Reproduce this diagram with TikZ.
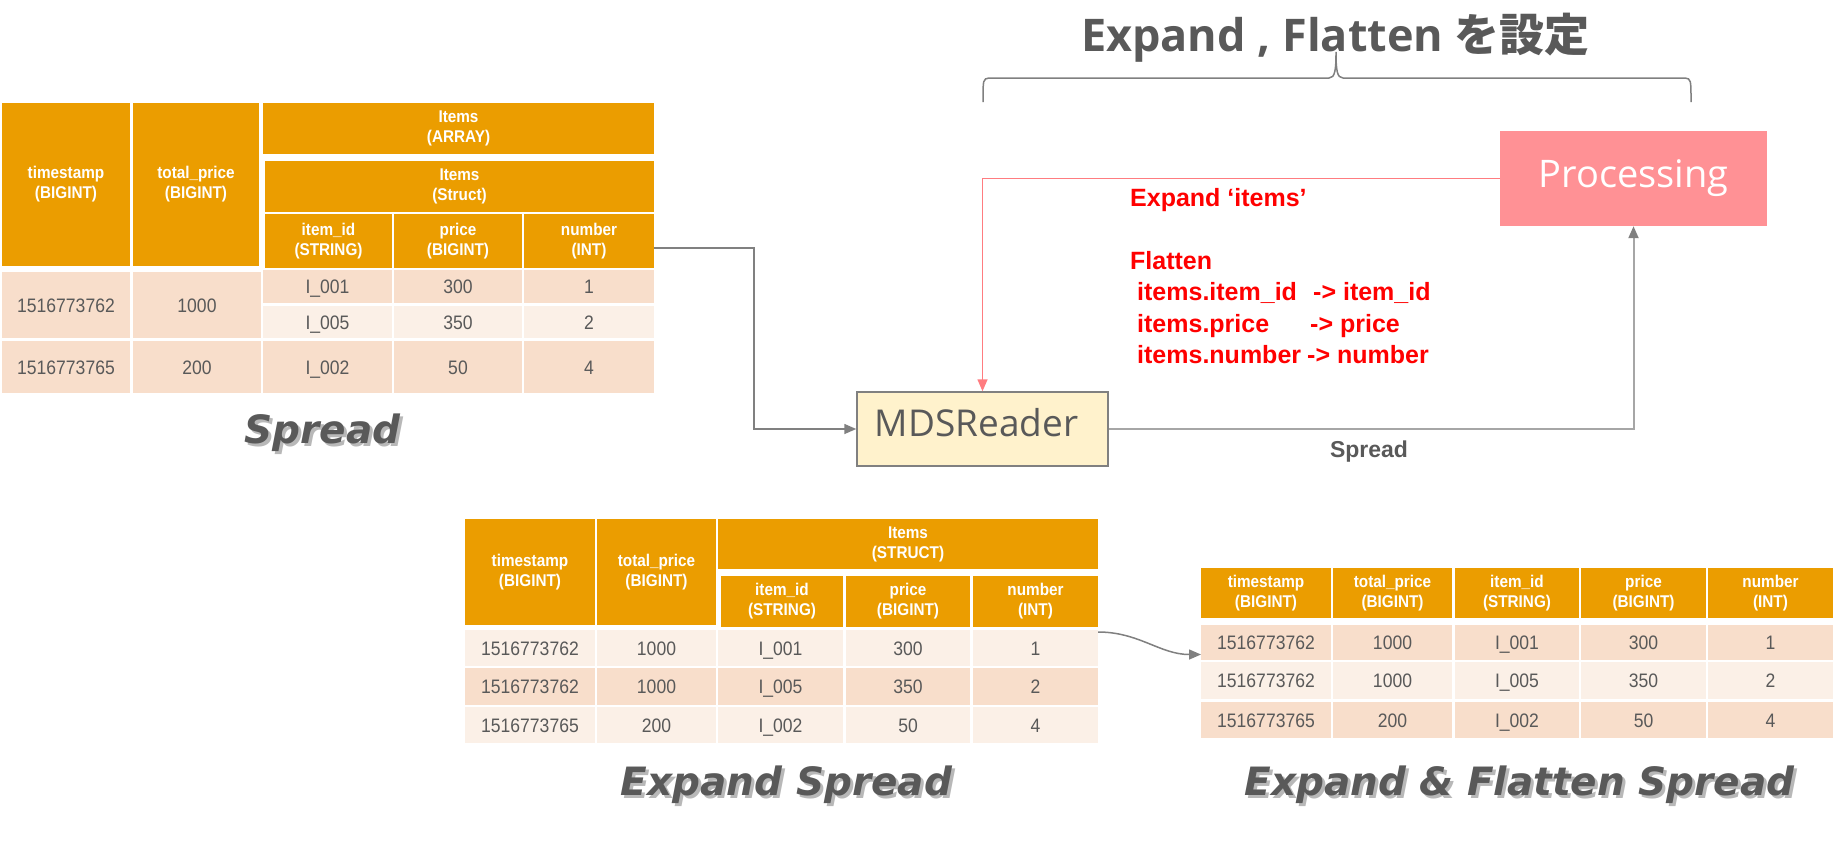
\documentclass[tikz,border=0pt]{standalone}
\usepackage{fontspec}
\setmainfont{Liberation Sans}
\newfontfamily\tabfont{Liberation Sans}[FakeStretch=0.9]
\newfontfamily\osans{Open Sans}
\newfontfamily\djv{DejaVu Sans}
\newfontfamily\cjk{Noto Sans CJK JP}
\usetikzlibrary{arrows.meta}
\definecolor{hdr}{HTML}{EB9D00}
\definecolor{peach}{HTML}{F8DECB}
\definecolor{pale}{HTML}{FBF0E7}
\definecolor{txt}{HTML}{595959}
\definecolor{lgray}{HTML}{A6A6A6}
\definecolor{mgray}{HTML}{808080}
\definecolor{pinkbox}{HTML}{FF9195}
\definecolor{pinkline}{HTML}{FF7C80}
\definecolor{cream}{HTML}{FFF2CC}
\definecolor{shadowc}{HTML}{B8B8B8}
\definecolor{redtxt}{HTML}{FF0000}
\newcommand\tcell[7]{\node[#2, minimum width={(#5-#3)*1pt}, minimum height={(#6-#4)*1pt}] (#1) at ({(#3+#5)/2},{(#4+#6)/2}) {#7};}
\newcommand\shtext[1]{\makebox[0pt][l]{\hspace{3pt}\raisebox{-3pt}{\color{shadowc}#1}}#1}
\tikzset{
  hd/.style={fill=hdr, text=white, font=\tabfont\bfseries\fontsize{17}{20}\selectfont, align=center, inner sep=0pt, outer sep=0pt},
  ca/.style={fill=peach, text=txt, font=\tabfont\fontsize{19.5}{22}\selectfont, inner sep=0pt, outer sep=0pt, text height=14pt, text depth=0pt},
  cb/.style={ca, fill=pale},
  gline/.style={draw=mgray, line width=1.5pt},
  lline/.style={draw=lgray, line width=2pt},
  rline/.style={draw=pinkline, line width=1.5pt},
  tip/.style={-{Triangle[length=12pt,width=10pt,color=#1]}},
  redt/.style={text=redtxt, font=\bfseries\fontsize{25}{30}\selectfont, inner sep=0pt, anchor=base west},
  bigit/.style={text=txt, font=\djv\bfseries\itshape\fontsize{39}{44}\selectfont, inner sep=0pt, anchor=base},
  brace/.style={draw=mgray, line width=1.5pt}
}
\begin{document}
\begin{tikzpicture}[x=1pt,y=-1pt]
\useasboundingbox (0,0) rectangle (1836,841);
\fill[white] (0,0) rectangle (1836,841);

% ---------- top-left table ----------
\tcell{a1}{hd}{2}{103}{130}{266}{timestamp\\(BIGINT)}
\tcell{a2}{hd}{133}{103}{259}{266}{total\_price\\(BIGINT)}
\tcell{a3}{hd}{263}{103}{654}{154}{Items\\(ARRAY)}
\tcell{a4}{hd}{265}{161}{654}{212}{Items\\(Struct)}
\tcell{a5}{hd}{265}{214}{392}{268}{item\_id\\(STRING)}
\tcell{a6}{hd}{394}{214}{522}{268}{price\\(BIGINT)}
\tcell{a7}{hd}{524}{214}{654}{268}{number\\(INT)}
\tcell{a11}{ca}{2}{272}{130}{338}{1516773762}
\tcell{a12}{ca}{133}{272}{261}{338}{1000}
\tcell{a13}{ca}{263}{270}{392}{303}{I\_001}
\tcell{a14}{ca}{394}{270}{522}{303}{300}
\tcell{a15}{ca}{524}{270}{654}{303}{1}
\tcell{a23}{cb}{263}{306}{392}{338}{I\_005}
\tcell{a24}{cb}{394}{306}{522}{338}{350}
\tcell{a25}{cb}{524}{306}{654}{338}{2}
\tcell{a31}{ca}{2}{341}{130}{393}{1516773765}
\tcell{a32}{ca}{133}{341}{261}{393}{200}
\tcell{a33}{ca}{263}{341}{392}{393}{I\_002}
\tcell{a34}{ca}{394}{341}{522}{393}{50}
\tcell{a35}{ca}{524}{341}{654}{393}{4}

% ---------- middle table ----------
\tcell{b1}{hd}{465}{519}{595}{625}{timestamp\\(BIGINT)}
\tcell{b2}{hd}{597}{519}{716}{625}{total\_price\\(BIGINT)}
\tcell{b3}{hd}{718}{519}{1098}{569}{Items\\(STRUCT)}
\tcell{b5}{hd}{721}{576}{843}{627}{item\_id\\(STRING)}
\tcell{b6}{hd}{846}{576}{970}{627}{price\\(BIGINT)}
\tcell{b7}{hd}{973}{576}{1098}{627}{number\\(INT)}
\tcell{b11}{cb}{465}{630}{595}{666}{1516773762}
\tcell{b12}{cb}{597}{630}{716}{666}{1000}
\tcell{b13}{cb}{718}{630}{843}{666}{I\_001}
\tcell{b14}{cb}{846}{630}{970}{666}{300}
\tcell{b15}{cb}{973}{630}{1098}{666}{1}
\tcell{b21}{ca}{465}{668}{595}{705}{1516773762}
\tcell{b22}{ca}{597}{668}{716}{705}{1000}
\tcell{b23}{ca}{718}{668}{843}{705}{I\_005}
\tcell{b24}{ca}{846}{668}{970}{705}{350}
\tcell{b25}{ca}{973}{668}{1098}{705}{2}
\tcell{b31}{cb}{465}{707}{595}{743}{1516773765}
\tcell{b32}{cb}{597}{707}{716}{743}{200}
\tcell{b33}{cb}{718}{707}{843}{743}{I\_002}
\tcell{b34}{cb}{846}{707}{970}{743}{50}
\tcell{b35}{cb}{973}{707}{1098}{743}{4}

% ---------- right table ----------
\tcell{c1}{hd}{1201}{568}{1331}{618}{timestamp\\(BIGINT)}
\tcell{c2}{hd}{1333}{568}{1452}{618}{total\_price\\(BIGINT)}
\tcell{c3}{hd}{1455}{568}{1579}{618}{item\_id\\(STRING)}
\tcell{c4}{hd}{1581}{568}{1706}{618}{price\\(BIGINT)}
\tcell{c5}{hd}{1708}{568}{1833}{618}{number\\(INT)}
\tcell{c11}{ca}{1201}{625}{1331}{660}{1516773762}
\tcell{c12}{ca}{1333}{625}{1452}{660}{1000}
\tcell{c13}{ca}{1455}{625}{1579}{660}{I\_001}
\tcell{c14}{ca}{1581}{625}{1706}{660}{300}
\tcell{c15}{ca}{1708}{625}{1833}{660}{1}
\tcell{c21}{cb}{1201}{662}{1331}{699}{1516773762}
\tcell{c22}{cb}{1333}{662}{1452}{699}{1000}
\tcell{c23}{cb}{1455}{662}{1579}{699}{I\_005}
\tcell{c24}{cb}{1581}{662}{1706}{699}{350}
\tcell{c25}{cb}{1708}{662}{1833}{699}{2}
\tcell{c31}{ca}{1201}{702}{1331}{738}{1516773765}
\tcell{c32}{ca}{1333}{702}{1452}{738}{200}
\tcell{c33}{ca}{1455}{702}{1579}{738}{I\_002}
\tcell{c34}{ca}{1581}{702}{1706}{738}{50}
\tcell{c35}{ca}{1708}{702}{1833}{738}{4}

% ---------- boxes ----------
\node[fill=cream, draw=mgray, line width=1.5pt, minimum width=251pt, minimum height=74pt, inner sep=0pt,
      text=txt, font=\osans\fontsize{37}{40}\selectfont] (mds) at (982.5,429) {\raisebox{6pt}[\height][\depth]{\kern-6pt MDSReader\kern6pt}};
\node[fill=pinkbox, minimum width=267pt, minimum height=95pt, inner sep=0pt,
      text=white, font=\osans\fontsize{38}{40}\selectfont] (proc) at (1633.5,178.5) {Processing};

% ---------- title and brace ----------
\node[text=txt, font=\osans\bfseries\fontsize{45}{50}\selectfont, anchor=base, inner sep=0pt] (title) at (1335.5,51) {Expand , Flatten {\cjk\bfseries を設定}};
\draw[brace] (983,102) .. controls (983,79) .. (989,78) -- (1329,78)
   .. controls (1335,78) and (1336,70) .. (1336,52)
   .. controls (1336,70) and (1337,78) .. (1343,78) -- (1685,78)
   .. controls (1691,79) .. (1691,102);

% ---------- red notes ----------
\node[redt] (e1) at (1130,206) {Expand ‘items’};
\node[redt] (f1) at (1130,269) {Flatten};
\node[redt] (f2) at (1137,300) {\makebox[176pt][l]{items.item\_id}-> item\_id};
\node[redt] (f3) at (1137,332) {\makebox[173pt][l]{items.price}-> price};
\node[redt] (f4) at (1137,363) {\makebox[170pt][l]{items.number}-> number};

\node[text=txt, font=\bfseries\fontsize{23}{26}\selectfont, anchor=base, inner sep=0pt] (sp) at (1369,457) {Spread};

% ---------- captions ----------
\node[bigit] (cap1) at (322.5,443) {\shtext{Spread}};
\node[bigit] (cap2) at (786.5,795) {\shtext{Expand Spread}};
\node[bigit] (cap3) at (1519.5,795) {\shtext{Expand \& Flatten Spread}};

% ---------- connectors ----------
\draw[gline, tip=mgray] ([yshift=-7pt]a7.east) -- ++(100,0) |- (mds.west);
\draw[lline, tip=mgray] (mds.east) -| (proc.south);
\draw[rline, tip=pinkline] (proc.west) -| (mds.north);
\draw[gline, tip=mgray] ([yshift=-2pt]b15.north east) to[out=0,in=180] ([yshift=-12pt]c11.west);
\end{tikzpicture}
\end{document}
